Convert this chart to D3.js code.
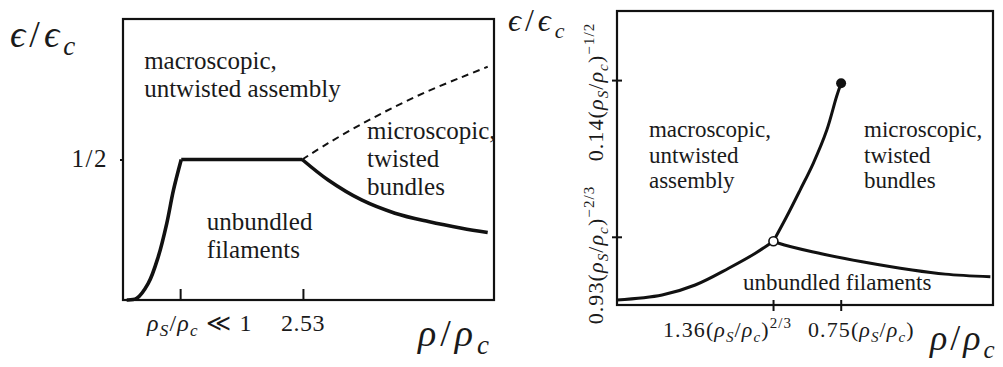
<!DOCTYPE html>
<html>
<head>
<meta charset="utf-8">
<script src="https://cdn.jsdelivr.net/npm/d3@7"></script>
<style>
  body { margin: 0; background: #fff; }
  svg { display: block; }
</style>
</head>
<body>
<script>
// schematic units, both axes 0..100 in each panel
const FONT = 'Liberation Serif';

// left panel: phase boundaries
const leftRise = [[1, 0], [3.7, 0.6], [6.8, 5.9], [9.5, 15.4], [11.8, 27.3], [13.6, 39.1], [15.7, 50]];
const leftPlateau = [[15.7, 50], [48.3, 50]];
const leftFall = [[48.3, 50], [55.3, 42.7], [64.3, 35.6], [73.3, 30.9], [82.3, 27.9], [91.3, 25.5], [98.3, 24]];
const leftDashed = [[48.3, 50], [55.3, 55.8], [64.3, 62.6], [73.3, 68.8], [82.3, 74.4], [91.3, 79.3], [98.3, 83]];
const leftXTicks = [15.4, 48.5];
const leftYTicks = [50];

// right panel: phase boundaries
const rightLow = [[0, 1.7], [12, 3.4], [20.8, 6.8], [29.7, 12.5], [36.8, 17.6], [41.6, 21.7]];
const rightUp = [[41.6, 21.7], [45.1, 30], [48.7, 39.1], [52.2, 48.2], [55.8, 59.5], [58.4, 70.9], [59.6, 75.4]];
const rightFall = [[41.6, 21.7], [43, 21], [51.9, 18.1], [65.2, 14.7], [78.5, 11.9], [87.3, 10.5], [99.3, 9.6]];
const openPoint = [41.6, 21.7];
const endPoint = [59.6, 75.4];
const rightXTicks = [41.5, 59.5];
const rightYTicks = [23.2, 76.5];

// labels: [text, style]  style: "" | "i" | "isub" | "sup"
const epsLabel = [["ϵ", "i"], ["/", ""], ["ϵ", "i"], ["c", "isub"]];
const rhoLabel = [["ρ", "i"], ["/", ""], ["ρ", "i"], ["c", "isub"]];
const leftXTickLabels = [
  [["ρ", "i"], ["S", "isub"], ["/", ""], ["ρ", "i"], ["c", "isub"], [" ≪ 1", ""]],
  [["2.53", ""]]
];
const leftYTickLabels = [[["1/2", ""]]];
const rightXTickLabels = [
  [["1.36(", ""], ["ρ", "i"], ["S", "isub"], ["/", ""], ["ρ", "i"], ["c", "isub"], [")", ""], ["2/3", "sup"]],
  [["0.75(", ""], ["ρ", "i"], ["S", "isub"], ["/", ""], ["ρ", "i"], ["c", "isub"], [")", ""]]
];
const rightYTickLabels = [
  [["0.93(", ""], ["ρ", "i"], ["S", "isub"], ["/", ""], ["ρ", "i"], ["c", "isub"], [")", ""], ["−2/3", "sup"]],
  [["0.14(", ""], ["ρ", "i"], ["S", "isub"], ["/", ""], ["ρ", "i"], ["c", "isub"], [")", ""], ["−1/2", "sup"]]
];
const leftRegions = [
  {lines: ["macroscopic,", "untwisted assembly"], at: [5.7, 82.2]},
  {lines: ["microscopic,", "twisted", "bundles"], at: [65.8, 57.3]},
  {lines: ["unbundled", "filaments"], at: [22.6, 24.9]}
];
const rightRegions = [
  {lines: ["macroscopic,", "untwisted", "assembly"], at: [8.5, 57.1]},
  {lines: ["microscopic,", "twisted", "bundles"], at: [65.7, 57.1]},
  {lines: ["unbundled filaments"], at: [33.5, 5.1]}
];

const svg = d3.select('body').append('svg')
  .attr('width', 1003)
  .attr('height', 367);

const txt = (g, size, ls) => g.append('text')
  .attr('font-family', FONT)
  .attr('font-size', size)
  .attr('letter-spacing', ls || 0)
  .attr('fill', '#1a1a1a');

// write a formula as tspans, sub/superscripts via dy
const rich = (sel, parts, size) => {
  let cur = 0;
  parts.forEach(([t, s]) => {
    let off = 0, fs = size;
    if (s.includes('sub')) { off = Math.round(size * 0.22); fs = Math.round(size * 0.7); }
    if (s.includes('sup')) { off = -Math.round(size * 0.42); fs = Math.round(size * 0.7); }
    sel.append('tspan')
      .attr('dy', off - cur)
      .attr('font-family', FONT)
      .attr('font-size', fs)
      .attr('font-style', s.startsWith('i') ? 'italic' : 'normal')
      .text(t);
    cur = off;
  });
  return sel;
};

const line = d3.line().curve(d3.curveCatmullRom.alpha(0.5));

const panel = (p) => {
  const x = d3.scaleLinear().domain([0, 100]).range([p.x0, p.x1]);
  const y = d3.scaleLinear().domain([0, 100]).range([p.y1, p.y0]);
  const g = svg.append('g');
  line.x((d) => x(d[0])).y((d) => y(d[1]));

  // frame
  g.append('rect')
    .attr('x', p.x0).attr('y', p.y0)
    .attr('width', p.x1 - p.x0).attr('height', p.y1 - p.y0)
    .attr('fill', 'none').attr('stroke', '#111').attr('stroke-width', 2.2);

  // ticks
  g.append('g')
    .attr('transform', `translate(0,${p.xTickY})`)
    .call(d3.axisBottom(x).tickValues(p.xTicks).tickSize(p.xTickLen).tickFormat(''))
    .call((a) => a.select('.domain').remove())
    .selectAll('line').attr('stroke', '#111').attr('stroke-width', 2);
  g.append('g')
    .attr('transform', `translate(${p.yTickX},0)`)
    .call(d3.axisLeft(y).tickValues(p.yTicks).tickSize(p.yTickLen).tickFormat(''))
    .call((a) => a.select('.domain').remove())
    .selectAll('line').attr('stroke', '#111').attr('stroke-width', 2);

  // curves
  p.curves.forEach((c) => {
    g.append('path')
      .attr('d', line(c.data))
      .attr('fill', 'none')
      .attr('stroke', '#111')
      .attr('stroke-width', c.w)
      .attr('stroke-dasharray', c.dash || null);
  });

  // region texts
  p.regions.forEach((r) => {
    r.lines.forEach((l, i) => {
      txt(g, p.fs)
        .attr('x', x(r.at[0]))
        .attr('y', y(r.at[1]) + i * p.lh)
        .text(l);
    });
  });
  return {g, x, y};
};

// ---- left panel
const L = panel({
  x0: 123, x1: 494, y0: 19, y1: 300,
  xTicks: leftXTicks, xTickY: 289, xTickLen: 12,
  yTicks: leftYTicks, yTickX: 123, yTickLen: 3,
  curves: [
    {data: leftRise, w: 3.6},
    {data: leftPlateau, w: 3.6},
    {data: leftFall, w: 3.6},
    {data: leftDashed, w: 2, dash: '7,5'}
  ],
  regions: leftRegions, fs: 25, lh: 28
});

rich(txt(L.g, 38, 4).attr('x', 10).attr('y', 47), epsLabel, 38);
rich(txt(L.g, 38, 4).attr('x', 418).attr('y', 346), rhoLabel, 38);
rich(txt(L.g, 24, 1.2).attr('x', 147).attr('y', 331), leftXTickLabels[0], 24);
rich(txt(L.g, 24, 0.5).attr('x', L.x(leftXTicks[1])).attr('y', 331).attr('text-anchor', 'middle'),
  leftXTickLabels[1], 24);
rich(txt(L.g, 25, 1.5).attr('x', 108).attr('y', L.y(leftYTicks[0]) + 7).attr('text-anchor', 'end'),
  leftYTickLabels[0], 25);

// ---- right panel
const R = panel({
  x0: 617, x1: 993, y0: 11, y1: 305,
  xTicks: rightXTicks, xTickY: 300, xTickLen: 11,
  yTicks: rightYTicks, yTickX: 622, yTickLen: 10,
  curves: [
    {data: rightLow, w: 3},
    {data: rightUp, w: 3},
    {data: rightFall, w: 3}
  ],
  regions: rightRegions, fs: 23, lh: 25.5
});

R.g.append('circle')
  .attr('cx', R.x(endPoint[0])).attr('cy', R.y(endPoint[1])).attr('r', 5)
  .attr('fill', '#111');
R.g.append('circle')
  .attr('cx', R.x(openPoint[0])).attr('cy', R.y(openPoint[1])).attr('r', 4.5)
  .attr('fill', '#fff').attr('stroke', '#111').attr('stroke-width', 1.6);

rich(txt(R.g, 32, 4).attr('x', 508).attr('y', 31), epsLabel, 32);
rich(txt(R.g, 36, 3).attr('x', 930).attr('y', 350), rhoLabel, 36);
rich(txt(R.g, 22, 1.1).attr('x', 663).attr('y', 337), rightXTickLabels[0], 22);
rich(txt(R.g, 22, 1.1).attr('x', 808).attr('y', 337), rightXTickLabels[1], 22);
const yLabelCenters = [255, 92];
rightYTickLabels.forEach((parts, i) => {
  rich(txt(R.g, 22, 1.1)
    .attr('transform', `translate(603,${yLabelCenters[i]}) rotate(-90)`)
    .attr('text-anchor', 'middle'), parts, 22);
});
</script>
</body>
</html>
